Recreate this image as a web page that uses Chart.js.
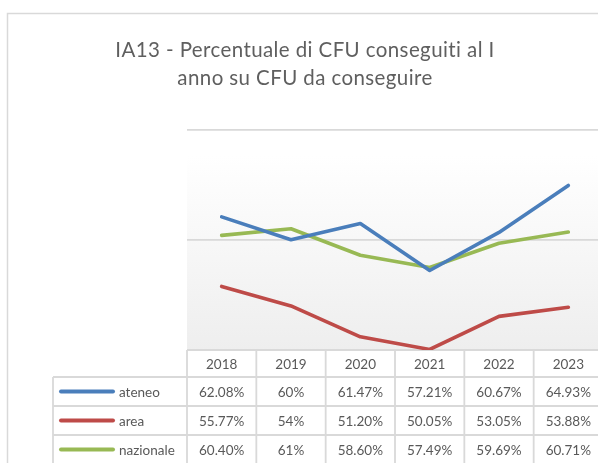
<!DOCTYPE html>
<html><head><meta charset="utf-8">
<script src="https://cdn.jsdelivr.net/npm/chart.js@4"></script>
<style>
html,body{margin:0;padding:0;background:#fff;overflow:hidden;}
#wrap{position:absolute;left:0;top:0;width:603px;height:470px;}
</style></head><body>
<div id="wrap"><canvas id="c" width="603" height="470"></canvas></div>
<script>
const titleLines = ['IA13 - Percentuale di CFU conseguiti al I', 'anno su CFU da conseguire'];
const years = ['2018', '2019', '2020', '2021', '2022', '2023'];
const seriesNames = ['ateneo', 'area', 'nazionale'];
const ateneo = [62.08, 60, 61.47, 57.21, 60.67, 64.93];
const area = [55.77, 54, 51.20, 50.05, 53.05, 53.88];
const nazionale = [60.40, 61, 58.60, 57.49, 59.69, 60.71];
const yMin = 50, yMax = 70, yStep = 10;

const colors = ['#4A7EBB', '#BE4B48', '#98B954'];
const seriesValues = [ateneo, area, nazionale];
const textColor = '#595959';
const borderColor = '#d9d9d9';
const tableFont = '13.5px Lato';

function fmt(v) { return (Number.isInteger(v) ? String(v) : v.toFixed(2)) + '%'; }

const framePlugin = {
  id: 'frame',
  beforeDraw(chart) {
    const { ctx, chartArea: a } = chart;
    ctx.save();
    const g = ctx.createLinearGradient(0, a.top, 0, a.bottom);
    g.addColorStop(0, '#ffffff');
    g.addColorStop(0.12, '#ffffff');
    g.addColorStop(1, '#eeeeee');
    ctx.fillStyle = g;
    ctx.fillRect(a.left, a.top, a.right - a.left, a.bottom - a.top);
    ctx.strokeStyle = borderColor;
    ctx.lineWidth = 1.5;
    ctx.strokeRect(7.5, 13.5, 800, 800);
    ctx.restore();
    if ('letterSpacing' in ctx) ctx.letterSpacing = '0.4px';
  },
  beforeDatasetsDraw(chart) {
    const { ctx, chartArea: a, scales } = chart;
    if ('letterSpacing' in ctx) ctx.letterSpacing = '0px';
    const x = scales.x;
    const colW = x.getPixelForValue(1) - x.getPixelForValue(0);
    const top = a.bottom;
    const headH = 27, rowH = 29;
    const legLeft = 53;
    const rowsTop = top + headH;
    const bottom = rowsTop + rowH * seriesNames.length;
    ctx.save();
    ctx.strokeStyle = borderColor;
    ctx.lineWidth = 1.8;
    ctx.beginPath();
    ctx.moveTo(a.left, top); ctx.lineTo(a.right + 50, top);
    for (let r = 0; r <= seriesNames.length; r++) {
      const y = rowsTop + r * rowH;
      ctx.moveTo(legLeft, y); ctx.lineTo(a.right + 50, y);
    }
    ctx.moveTo(legLeft, rowsTop); ctx.lineTo(legLeft, bottom);
    for (let i = 0; i <= years.length; i++) {
      const xx = x.getPixelForValue(0) - colW / 2 + i * colW;
      ctx.moveTo(xx, top); ctx.lineTo(xx, bottom);
    }
    ctx.stroke();
    ctx.fillStyle = textColor;
    ctx.font = tableFont;
    ctx.textAlign = 'center';
    ctx.textBaseline = 'middle';
    years.forEach((yr, i) => ctx.fillText(yr, x.getPixelForValue(i), top + headH / 2 + 1));
    seriesNames.forEach((name, r) => {
      const cy = rowsTop + r * rowH + rowH / 2 + 1;
      seriesValues[r].forEach((v, i) => ctx.fillText(fmt(v), x.getPixelForValue(i), cy));
      ctx.save();
      ctx.strokeStyle = colors[r];
      ctx.lineWidth = 4;
      ctx.lineCap = 'round';
      ctx.beginPath();
      ctx.moveTo(61, cy - 1); ctx.lineTo(113, cy - 1);
      ctx.stroke();
      ctx.restore();
      ctx.textAlign = 'left';
      ctx.fillText(name, 119, cy);
      ctx.textAlign = 'center';
    });
    ctx.restore();
  }
};

new Chart(document.getElementById('c'), {
  type: 'line',
  data: {
    labels: years,
    datasets: seriesNames.map((n, i) => ({
      label: n,
      data: seriesValues[i],
      borderColor: colors[i],
      backgroundColor: colors[i],
      borderWidth: 3.6,
      pointRadius: 0,
      borderCapStyle: 'round',
      borderJoinStyle: 'round',
      tension: 0
    }))
  },
  options: {
    responsive: false,
    devicePixelRatio: 1,
    animation: false,
    layout: { padding: { left: 7, right: 0, top: 0, bottom: 120 } },
    plugins: {
      legend: { display: false },
      tooltip: { enabled: false },
      title: {
        display: true,
        text: titleLines,
        color: '#5f5f5f',
        font: { family: 'Lato', size: 20.5, weight: 'normal', lineHeight: 1.38 },
        padding: { top: 36, bottom: 37 }
      }
    },
    scales: {
      x: { type: 'category', offset: true, display: false },
      y: {
        min: yMin, max: yMax,
        afterFit(s) { s.width = 180; },
        border: { display: false },
        ticks: { display: false, stepSize: yStep },
        grid: { color: borderColor, lineWidth: 1.8, drawTicks: false }
      }
    }
  },
  plugins: [framePlugin]
});
</script>
</body></html>
